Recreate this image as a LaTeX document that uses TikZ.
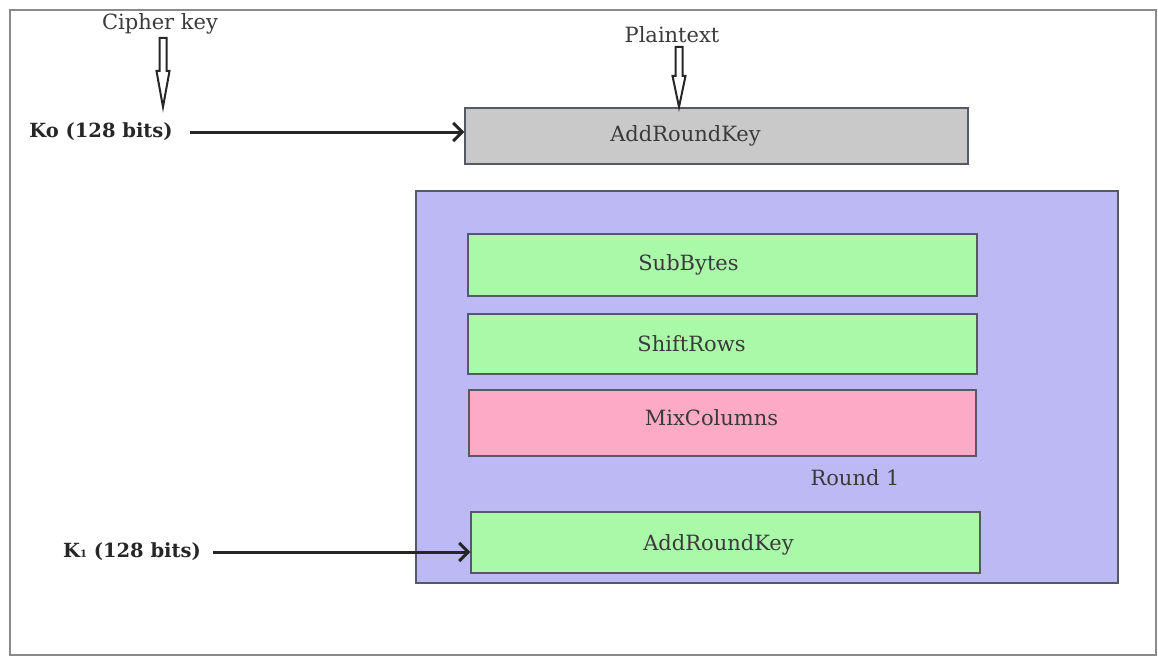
\documentclass[tikz,border=0pt]{standalone}
\usepackage{fontspec}
\setmainfont{DejaVu Serif}
\usetikzlibrary{arrows.meta}
\definecolor{framecol}{HTML}{8A8A8A}
\definecolor{edgecol}{HTML}{555A66}
\definecolor{greyfill}{HTML}{C9C9C9}
\definecolor{roundfill}{HTML}{BCB9F5}
\definecolor{greenfill}{HTML}{AAF9A9}
\definecolor{pinkfill}{HTML}{FDAAC6}
\definecolor{txtcol}{HTML}{3A3A3A}
\tikzset{
  blk/.style={draw=edgecol, line width=1.3pt, rectangle, inner sep=0pt},
  lbl/.style={text=txtcol, font=\fontsize{21}{24}\selectfont, inner sep=0pt},
  keylbl/.style={text=black!85, font=\bfseries\fontsize{19.5}{22}\selectfont, inner sep=0pt},
  keyarrow/.style={line width=3pt, draw=black!85, -{Straight Barb[length=9pt,width=18pt]}},
  hollow/.style={draw=black!85, fill=white, line width=2pt, line join=miter},
}
\begin{document}
\begin{tikzpicture}[x=1pt,y=-1pt]
\useasboundingbox (0,0) rectangle (1158,658);
\draw[framecol, line width=1.5pt] (10,10) rectangle (1156,655);

% top AddRoundKey
\node[blk, fill=greyfill, minimum width=503pt, minimum height=56pt,
  label={[lbl, xshift=-31pt]center:AddRoundKey}] (ark0) at (716.5,136) {};

% round container
\node[blk, fill=roundfill, minimum width=702pt, minimum height=392pt] (round) at (767,387) {};
\node[blk, fill=greenfill, minimum width=509pt, minimum height=62pt,
  label={[lbl, xshift=-34pt]center:SubBytes}] (sub) at (722.5,265) {};
\node[blk, fill=greenfill, minimum width=509pt, minimum height=60pt,
  label={[lbl, xshift=-31pt]center:ShiftRows}] (shift) at (722.5,344) {};
\node[blk, fill=pinkfill, minimum width=507pt, minimum height=66pt,
  label={[lbl, xshift=-11pt, yshift=5pt]center:MixColumns}] (mix) at (722.5,423) {};
\node[lbl] (r1) at (855,478) {Round 1};
\node[blk, fill=greenfill, minimum width=509pt, minimum height=61pt,
  label={[lbl, xshift=-7pt, yshift=-2pt]center:AddRoundKey}] (ark1) at (725.5,542.5) {};

% inputs
\node[lbl] (ck) at (160,24) {Cipher key};
\node[lbl] (pt) at (672,35) {Plaintext};
\coordinate (ckTop) at (163,38);
\coordinate (ptTop) at (679,47);

\draw[hollow, shift={(ckTop)}] (-3.5,0) -- (-3.5,33) -- (-6.5,33) -- (0,69) -- (6.5,33) -- (3.5,33) -- (3.5,0) -- cycle;
\draw[hollow, shift={(ptTop)}] (-3.5,0) -- (-3.5,29) -- (-6.5,29) -- (0,60) -- (6.5,29) -- (3.5,29) -- (3.5,0) -- cycle;

% key labels
\node[keylbl] (k0) at (101,132) {Ko (128 bits)};
\node[keylbl] (k1) at (132,552) {K{\fontsize{10}{10}\selectfont 1} (128 bits)};

\draw[keyarrow] ([xshift=17pt]k0.east) -- (k0.east -| ark0.west);
\draw[keyarrow] ([xshift=12pt]k1.east) -- (k1.east -| ark1.west);
\end{tikzpicture}
\end{document}
